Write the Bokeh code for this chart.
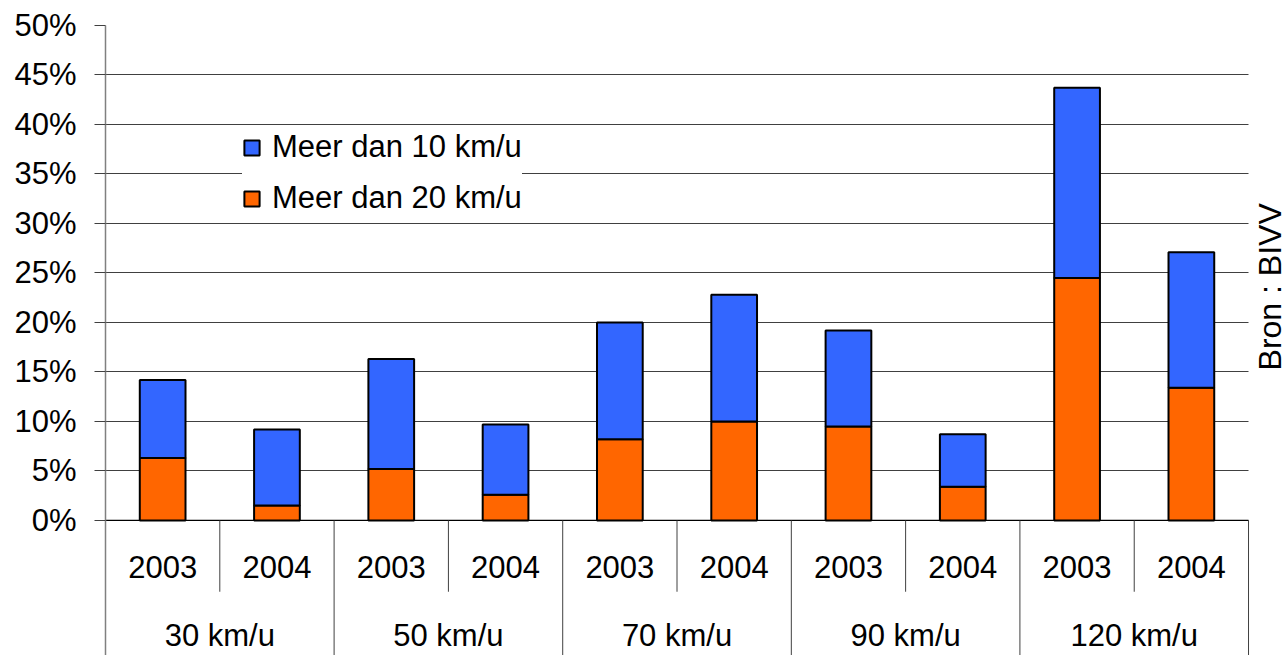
from bokeh.plotting import figure
from bokeh.models import (Range1d, FixedTicker, PrintfTickFormatter, Legend,
                          LegendItem, ColumnDataSource)
from bokeh.core.properties import value
from bokeh.embed import file_html
from bokeh.resources import INLINE

# ---- data ----
groups = ["30 km/u", "50 km/u", "70 km/u", "90 km/u", "120 km/u"]
years = ["2003", "2004"]
over10 = [14.2, 9.2, 16.3, 9.7, 20.0, 22.8, 19.2, 8.7, 43.7, 27.1]   # Meer dan 10 km/u
over20 = [6.3, 1.5, 5.2, 2.6, 8.2, 10.0, 9.5, 3.4, 24.5, 13.4]       # Meer dan 20 km/u
y_ticks = [0, 5, 10, 15, 20, 25, 30, 35, 40, 45, 50]
source_note = "Bron : BIVV"

FONT = "Liberation Sans"
FS = "31px"

n = len(groups) * len(years)
x_year = [i + 0.5 for i in range(n)]
year_labels = [years[i % len(years)] for i in range(n)]
x_group = [len(years) * g + len(years) / 2 for g in range(len(groups))]

y_bottom = -13.64
x_end = n + 0.341
p = figure(width=1287, height=655, output_backend="svg", toolbar_location=None,
           x_range=Range1d(0, x_end), y_range=Range1d(y_bottom, 50),
           x_axis_location=None, min_border_left=105, min_border_right=0,
           min_border_top=25, min_border_bottom=0)
p.outline_line_color = None
p.background_fill_color = "white"
p.border_fill_color = "white"

# y axis
p.yaxis.ticker = FixedTicker(ticks=y_ticks)
p.yaxis.formatter = PrintfTickFormatter(format="%d%%")
p.yaxis.axis_line_color = "#808080"
p.yaxis.axis_line_width = 1.5
p.yaxis.major_tick_line_color = "#404040"
p.yaxis.major_tick_out = 11
p.yaxis.major_tick_in = 0
p.yaxis.minor_tick_line_color = None
p.yaxis.major_label_text_font = FONT
p.yaxis.major_label_text_font_size = FS
p.yaxis.major_label_text_color = "black"
p.yaxis.major_label_standoff = 18

p.xgrid.visible = False
p.ygrid.ticker = FixedTicker(ticks=y_ticks)
p.ygrid.grid_line_color = "#404040"
p.ygrid.grid_line_width = 1
p.ygrid.cross_bounds = (0, n)

# baseline at 0%
p.segment(x0=[0], x1=[n], y0=[0], y1=[0], line_color="black", line_width=1.2)

src = ColumnDataSource(dict(x=x_year, o10=over10, o20=over20))
r_or = p.vbar(x="x", width=0.4, bottom=0, top="o20", source=src,
              fill_color="#FF6600", line_color="black", line_width=2)
r_bl = p.vbar(x="x", width=0.4, bottom="o20", top="o10", source=src,
              fill_color="#3366FF", line_color="black", line_width=2)

# category table below the axis
p.text(x=x_year, y=[-4.75] * n, text=year_labels, text_align="center",
       text_baseline="middle", text_font=value(FONT), text_font_size=FS, text_color="black")
p.text(x=x_group, y=[-11.6] * len(groups), text=groups, text_align="center",
       text_baseline="middle", text_font=value(FONT), text_font_size=FS, text_color="black")

inner = [len(years) * g + 1 for g in range(len(groups))]
outer = [len(years) * g for g in range(1, len(groups) + 1)]
p.segment(x0=inner, x1=inner, y0=[0] * len(inner), y1=[-7.2] * len(inner),
          line_color="#404040", line_width=1)
p.segment(x0=outer, x1=outer, y0=[0] * len(outer), y1=[y_bottom] * len(outer),
          line_color="#404040", line_width=1)

# source note, rotated, right of the plot area
p.text(x=[n + 0.19], y=[23.6], text=[source_note], angle=1.5707963,
       text_align="center", text_baseline="middle",
       text_font=value(FONT), text_font_size="32px", text_color="black")

legend = Legend(items=[LegendItem(label="Meer dan 10 km/u", renderers=[r_bl]),
                       LegendItem(label="Meer dan 20 km/u", renderers=[r_or])],
                location=(137, 439), orientation="vertical")
legend.label_text_font = FONT
legend.label_text_font_size = FS
legend.label_text_color = "black"
legend.glyph_width = 19
legend.glyph_height = 19
legend.label_height = 30
legend.label_standoff = 11
legend.spacing = 15
legend.padding = 14
legend.margin = 0
legend.border_line_color = None
legend.background_fill_color = "white"
legend.background_fill_alpha = 1.0
p.add_layout(legend, "center")

open("out.html", "w").write(file_html(p, INLINE))
